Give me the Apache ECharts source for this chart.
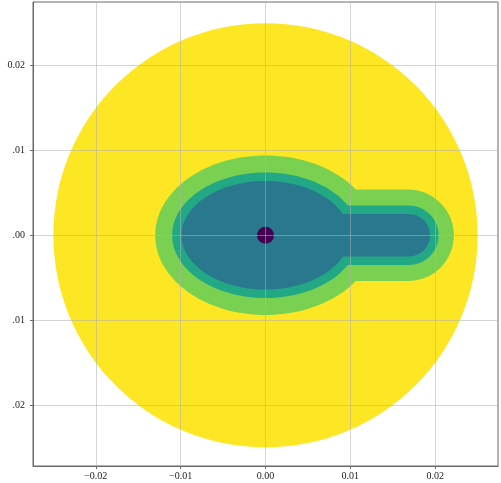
<!DOCTYPE html>
<html>
<head>
<meta charset="utf-8">
<script src="https://cdn.jsdelivr.net/npm/echarts@6/dist/echarts.min.js"></script>
<style>
html,body{margin:0;padding:0;background:#fff;}
#chart{width:501px;height:483px;}
</style>
</head>
<body>
<div id="chart"></div>
<script>
// outer disc and center dot
var discRadius = 0.025;
var dotRadius = 0.001;
var discColor = '#fde725';
var dotColor = '#440154';

// nested "ellipse + stem" bands, outermost first
var bandColors = ['#7ad151', '#22a884', '#2a788e'];
var bandSemiX = [0.013, 0.0110, 0.0099];
var bandSemiY = [0.0094, 0.0074, 0.0064];
var stemHalf = [0.0054, 0.0035, 0.0025];
var stemEnd = [0.0222, 0.0204, 0.0194];

// axis ticks
var xTickValues = [-0.02, -0.01, 0.00, 0.01, 0.02];
var xTickLabels = ['\u22120.02', '\u22120.01', '0.00', '0.01', '0.02'];
var yTickValues = [-0.02, -0.01, 0.00, 0.01, 0.02];
var yTickLabels = ['.02', '.01', '.00', '.01', '0.02'];

var xRange = [-0.0274, 0.0274];
var yRange = [-0.0272, 0.0275];

function lookup(values, labels, v) {
	for (var i = 0; i < values.length; i++) {
		if (Math.abs(values[i] - v) < 1e-6) return labels[i];
	}
	return '';
}

var bandData = [];
for (var i = 0; i < bandColors.length; i++) {
	bandData.push([bandSemiX[i], bandSemiY[i], stemHalf[i], stemEnd[i], i]);
}

var chart = echarts.init(document.getElementById('chart'));
var labelFont = 'Liberation Serif';
var spine = '#6a6a6a';
var gridLine = {show: true, lineStyle: {color: 'rgba(176,176,176,0.55)', width: 1}};

chart.setOption({
	backgroundColor: '#fff',
	animation: false,
	grid: {
		left: 33, right: 3, top: 2, bottom: 17,
		show: true, borderColor: spine, borderWidth: 1,
		backgroundColor: 'transparent'
	},
	xAxis: {
		type: 'value', min: xRange[0], max: xRange[1], splitNumber: 5,
		axisLine: {show: true, onZero: false, lineStyle: {color: spine}},
		axisTick: {show: true, length: 3, lineStyle: {color: spine}},
		axisLabel: {
			showMinLabel: false, showMaxLabel: false, margin: 5,
			fontFamily: labelFont, fontSize: 10, color: '#222',
			formatter: function (v) { return lookup(xTickValues, xTickLabels, v); }
		},
		splitLine: gridLine
	},
	yAxis: {
		type: 'value', min: yRange[0], max: yRange[1], splitNumber: 5,
		axisLine: {show: true, onZero: false, lineStyle: {color: spine}},
		axisTick: {show: true, length: 3, lineStyle: {color: spine}},
		axisLabel: {
			showMinLabel: false, showMaxLabel: false, margin: 8,
			fontFamily: labelFont, fontSize: 10, color: '#222',
			formatter: function (v) { return lookup(yTickValues, yTickLabels, v); }
		},
		splitLine: gridLine
	},
	series: [{
		type: 'custom',
		z: -1,
		silent: true,
		data: [[0, 0, discRadius]],
		renderItem: function (params, api) {
			var c = api.coord([api.value(0), api.value(1)]);
			var r = api.size([api.value(2), 0])[0];
			return {type: 'circle', shape: {cx: c[0], cy: c[1], r: r}, style: {fill: discColor}};
		}
	}, {
		type: 'custom',
		z: -1,
		silent: true,
		data: bandData,
		renderItem: function (params, api) {
			var c = api.coord([0, 0]);
			var ax = api.size([api.value(0), api.value(1)]);
			var h = api.size([0, api.value(2)])[1];
			var end = api.coord([api.value(3), 0])[0];
			var color = bandColors[api.value(4)];
			return {
				type: 'group',
				children: [{
					type: 'ellipse',
					shape: {cx: c[0], cy: c[1], rx: ax[0], ry: ax[1]},
					style: {fill: color}
				}, {
					type: 'rect',
					shape: {x: c[0], y: c[1] - h, width: end - c[0], height: 2 * h, r: [0, h, h, 0]},
					style: {fill: color}
				}]
			};
		}
	}, {
		type: 'custom',
		z: -1,
		silent: true,
		data: [[0, 0, dotRadius]],
		renderItem: function (params, api) {
			var c = api.coord([api.value(0), api.value(1)]);
			var r = api.size([api.value(2), 0])[0];
			return {type: 'circle', shape: {cx: c[0], cy: c[1], r: r}, style: {fill: dotColor}};
		}
	}]
});
</script>
</body>
</html>
